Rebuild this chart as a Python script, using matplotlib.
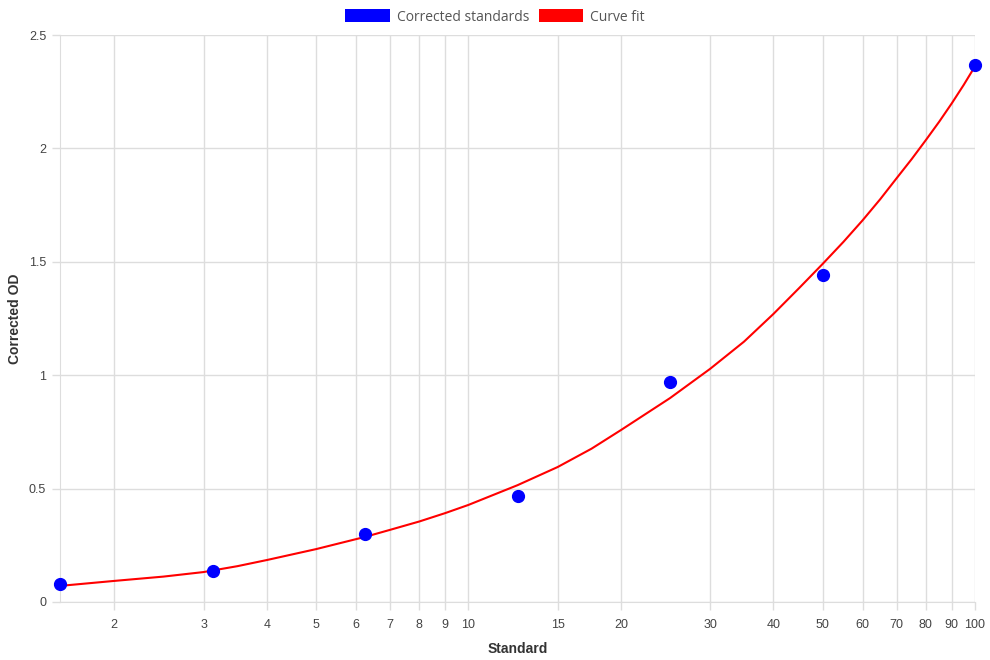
import numpy as np
import matplotlib
matplotlib.use("Agg")
import matplotlib.pyplot as plt
from matplotlib.patches import Patch
from matplotlib.ticker import FixedLocator, NullLocator

# corrected standards
std_x = [1.5625, 3.125, 6.25, 12.5, 25, 50, 100]
std_y = [0.079, 0.137, 0.300, 0.467, 0.970, 1.442, 2.368]

# curve fit
fit_x = [1.5625, 2, 2.5, 3, 3.5, 4, 5, 6.25, 7, 8, 9, 10, 12.5, 15, 17.5, 20, 25, 30,
         35, 40, 45, 50, 55, 60, 65, 70, 75, 80, 85, 90, 95, 100]
fit_y = [0.071, 0.093, 0.112, 0.132, 0.158, 0.185, 0.233, 0.287, 0.318, 0.355, 0.392, 0.428,
         0.515, 0.595, 0.676, 0.758, 0.899, 1.028, 1.148, 1.270, 1.385, 1.490, 1.588,
         1.683, 1.776, 1.868, 1.953, 2.037, 2.118, 2.199, 2.280, 2.362]

x_ticks = [2, 3, 4, 5, 6, 7, 8, 9, 10, 15, 20, 30, 40, 50, 60, 70, 80, 90, 100]
y_ticks = [0, 0.5, 1, 1.5, 2, 2.5]
y_labels = ["0", "0.5", "1", "1.5", "2", "2.5"]

grid_c = "#dddddd"
plt.rcParams["font.family"] = ["Liberation Sans", "DejaVu Sans"]

fig = plt.figure(figsize=(9.9, 6.6), dpi=100)
ax = fig.add_axes([60/990, 58/660, 915/990, 567/660])

ax.plot(fit_x, fit_y, color="#ff0000", lw=1.5, zorder=3, clip_on=False)
ax.plot(std_x, std_y, "o", color="#0000ff", ms=8.5, zorder=4, clip_on=False)

ax.set_xscale("log")
ax.set_xlim(1.5625, 100)
ax.set_ylim(0, 2.5)
ax.xaxis.set_major_locator(FixedLocator(x_ticks))
ax.xaxis.set_minor_locator(NullLocator())
ax.set_xticklabels([str(t) for t in x_ticks])
ax.set_yticks(y_ticks)
ax.set_yticklabels(y_labels)

ax.grid(True, color=grid_c, lw=1)
ax.set_axisbelow(True)
ax.tick_params(length=6, width=1, color=grid_c, labelsize=9, labelcolor="#444444", pad=4)
ax.tick_params(axis="x", pad=6)
for s in ["top", "right"]:
    ax.spines[s].set_visible(False)
for s in ["left", "bottom"]:
    ax.spines[s].set_color(grid_c)

ax.set_xlabel("Standard", fontsize=10, fontweight="bold", color="#333333", labelpad=8)
ax.set_ylabel("Corrected OD", fontsize=10, fontweight="bold", color="#333333", labelpad=5)

handles = [Patch(facecolor="#0000ff", label="Corrected standards"),
           Patch(facecolor="#ff0000", label="Curve fit")]
leg = fig.legend(handles=handles, loc="center", bbox_to_anchor=(0.5, 1 - 17/660), ncol=2,
                 frameon=False, handlelength=3.2, handleheight=1.05,
                 handletextpad=0.5, columnspacing=0.7, prop={"family": "Open Sans", "size": 10})
for t in leg.get_texts():
    t.set_color("#555555")

fig.savefig("out.png", dpi=100)
